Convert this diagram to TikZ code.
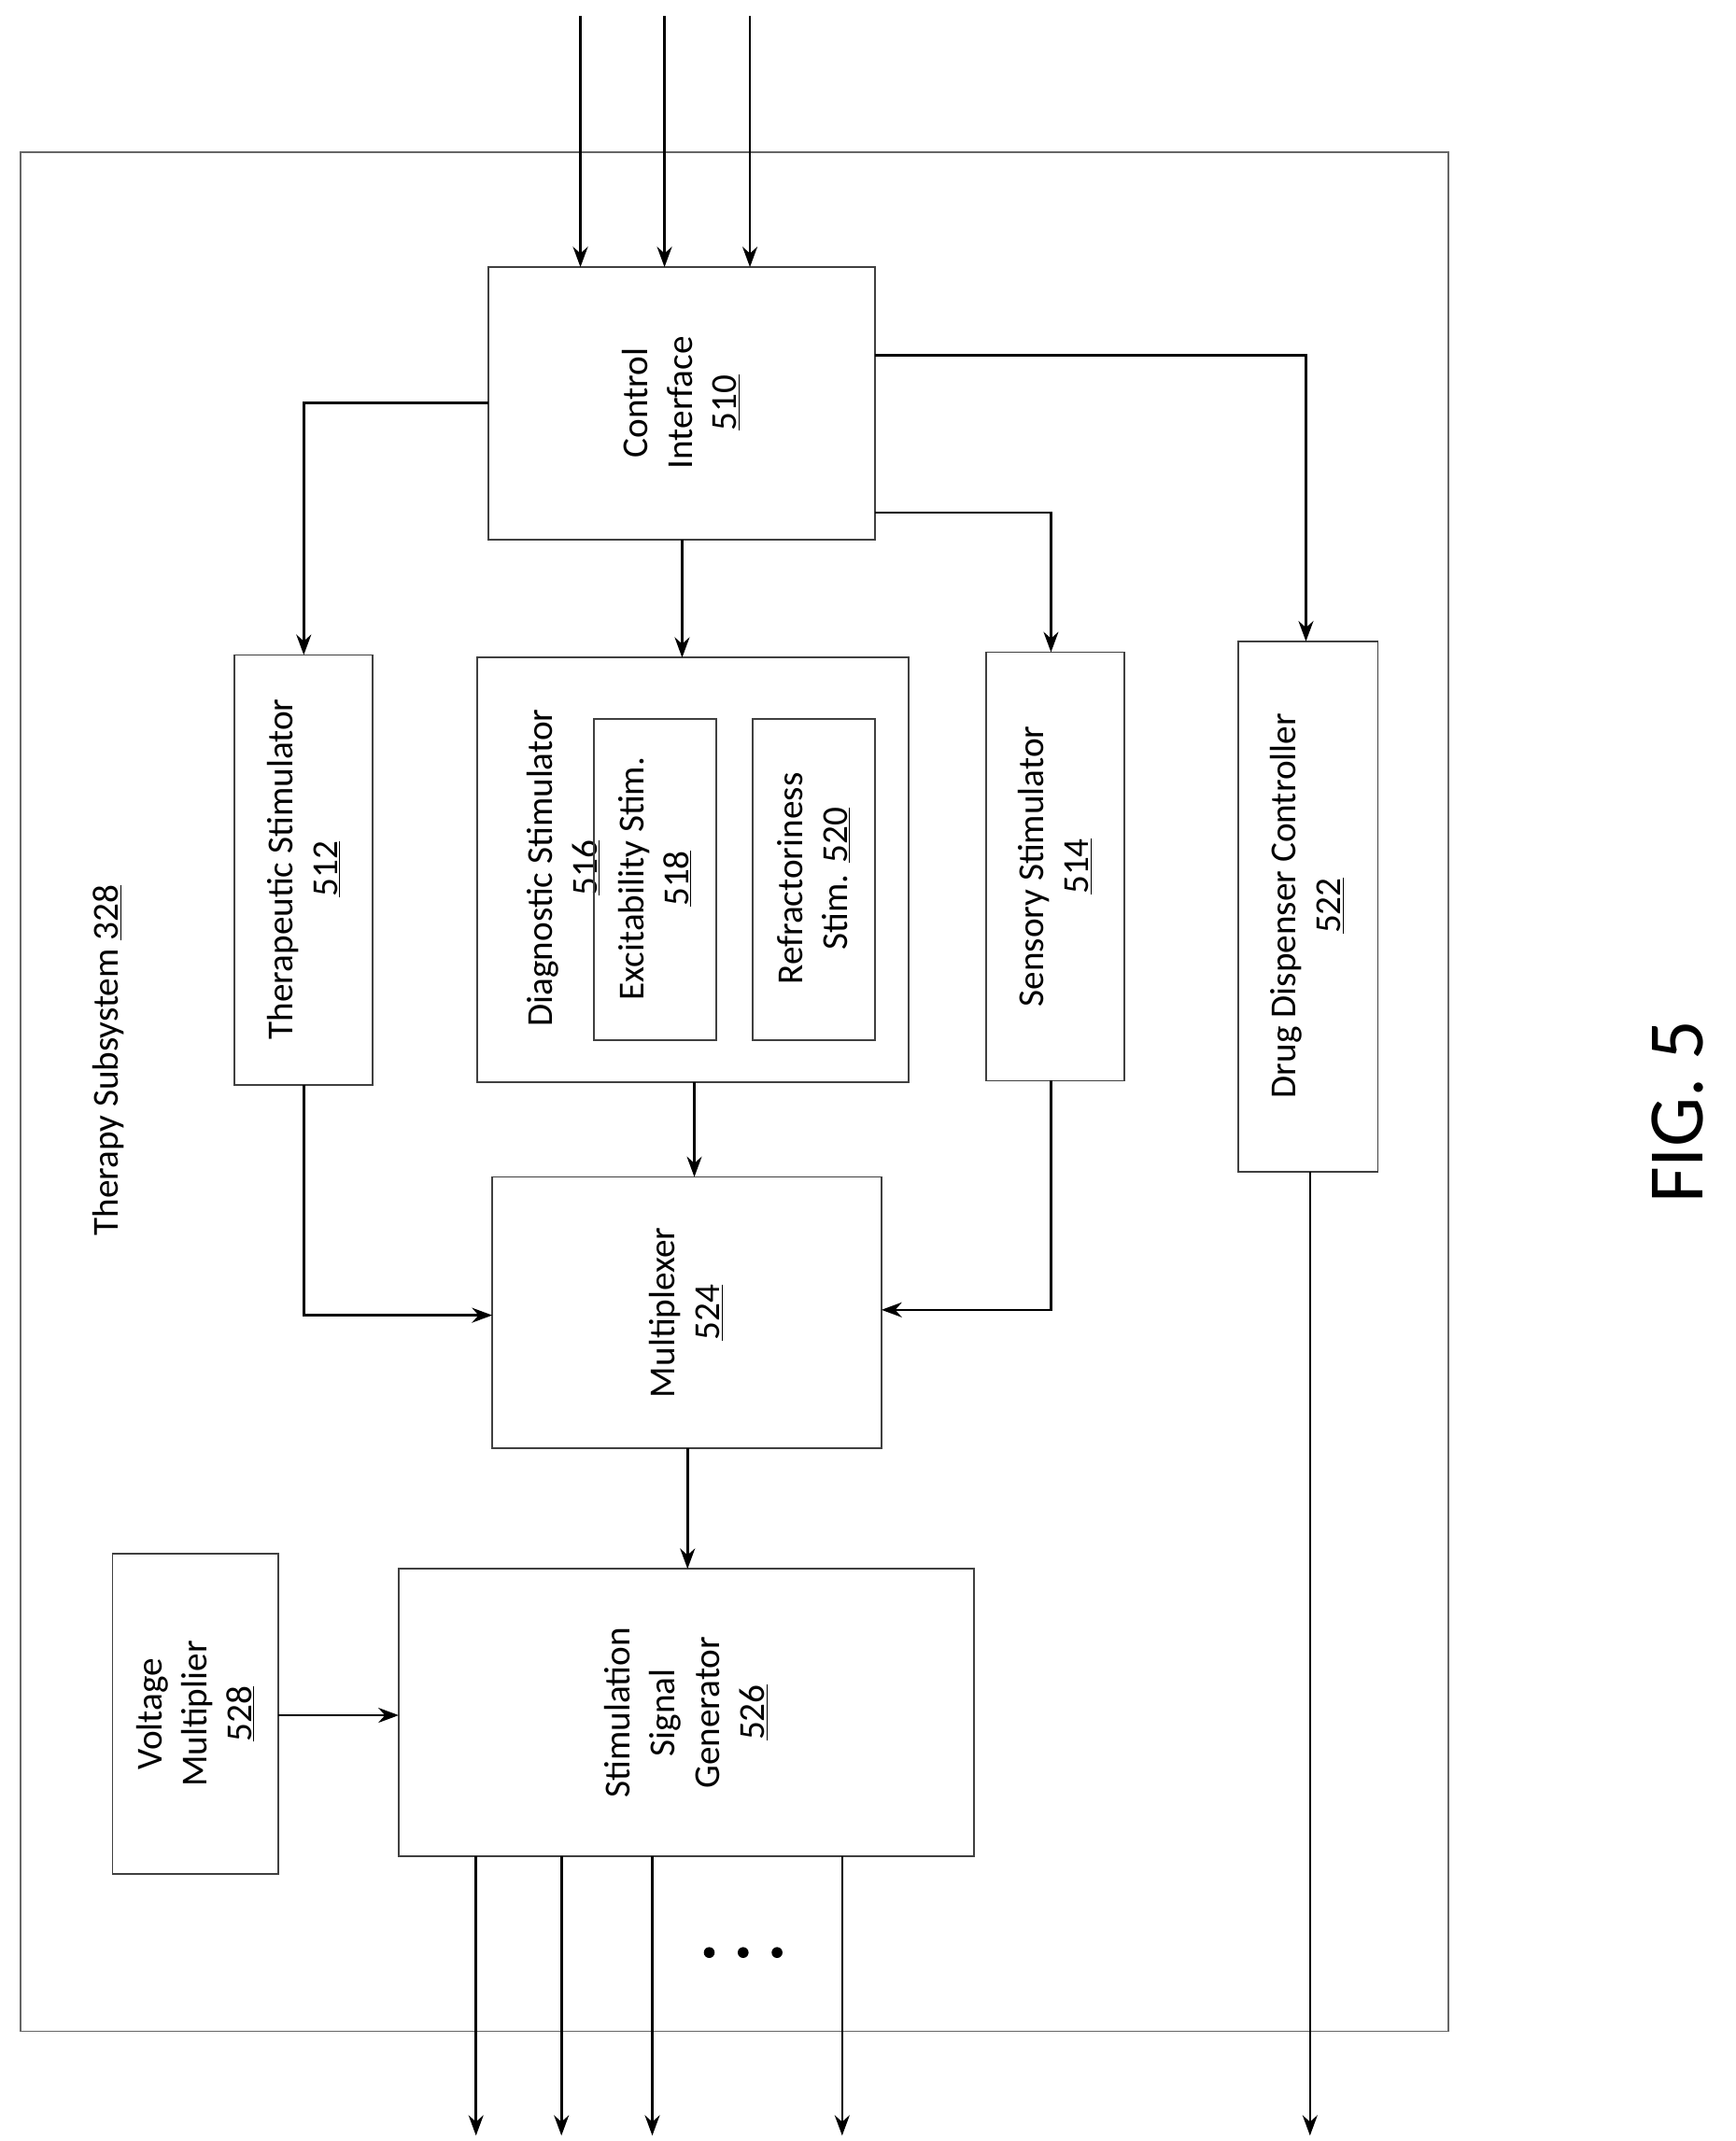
\documentclass[tikz,border=0pt]{standalone}
\usepackage{fontspec}
\setmainfont{Carlito}
\usetikzlibrary{arrows.meta}
\begin{document}
\begin{tikzpicture}[x=1pt,y=-1pt,
  box/.style={draw=black!75,line width=1.2pt},
  lbl/.style={rotate=90,align=center,font=\fontsize{27}{33}\selectfont},
  arr/.style={line width=1.8pt,-{Stealth[length=15pt,width=11pt]}},
  ln/.style={line width=1.8pt}]
\useasboundingbox (0,0) rectangle (1280,1579);
\fill[white] (0,0) rectangle (1280,1579);
\draw[black!60,line width=1.2pt] (15,112) rectangle (1068,1498);
\node[lbl,anchor=center] (ts) at (80,782) {Therapy Subsystem \underline{328}};
% boxes
\draw[box] (360,197) rectangle (645,398);
\node[lbl] (ci) at (502,297) {Control\\Interface\\\underline{510}};
\coordinate (ciT) at (502,197);
\draw[box] (173,483) rectangle (275,800);
\node[lbl] (th) at (224,641) {Therapeutic Stimulator\\\underline{512}};
\draw[box] (352,485) rectangle (670,798);
\node[lbl,anchor=north] (dg) at (385,640) {Diagnostic Stimulator\\\underline{516}};
\draw[box] (438,530) rectangle (528,767);
\node[lbl] (ex) at (483,648) {Excitability Stim.\\\underline{518}};
\draw[box] (555,530) rectangle (645,767);
\node[lbl] (rf) at (600,648) {Refractoriness\\Stim. \underline{520}};
\draw[box] (727,481) rectangle (829,797);
\node[lbl] (ss) at (778,639) {Sensory Stimulator\\\underline{514}};
\draw[box] (913,473) rectangle (1016,864);
\node[lbl] (dd) at (964,668) {Drug Dispenser Controller\\\underline{522}};
\draw[box] (363,868) rectangle (650,1068);
\node[lbl] (mx) at (506,968) {Multiplexer\\\underline{524}};
\draw[box] (83,1146) rectangle (205,1382);
\node[lbl] (vm) at (144,1264) {Voltage\\Multiplier\\\underline{528}};
\draw[box] (294,1157) rectangle (718,1369);
\node[lbl] (sg) at (506,1263) {Stimulation\\Signal\\Generator\\\underline{526}};
\node[rotate=90,font=\fontsize{58}{60}\selectfont] (fig) at (1237,820) {FIG. 5};
% coordinates
\foreach \x/\n in {428/a,490/b,553/c}{
  \coordinate (in\n) at (\x,12);
  \draw[arr] (in\n) -- (\x,197);}
\draw[arr] (360,297) -| (224,483);
\draw[arr] (503,398) -- (503,485);
\draw[arr] (645,378) -| (775,481);
\draw[arr] (645,262) -| (963,473);
\draw[arr] (224,800) |- (363,970);
\draw[arr] (512,798) -- (512,868);
\draw[arr] (775,797) |- (650,966);
\draw[arr] (507,1068) -- (507,1157);
\draw[arr] (205,1265) -- (294,1265);
\foreach \x in {351,414,481,621}{
  \draw[arr] (\x,1369) -- (\x,1575);}
\draw[arr] (966,864) -- (966,1575);
\foreach \x in {523,548,573}{\fill (\x,1440) circle (4);}
\end{tikzpicture}
\end{document}
